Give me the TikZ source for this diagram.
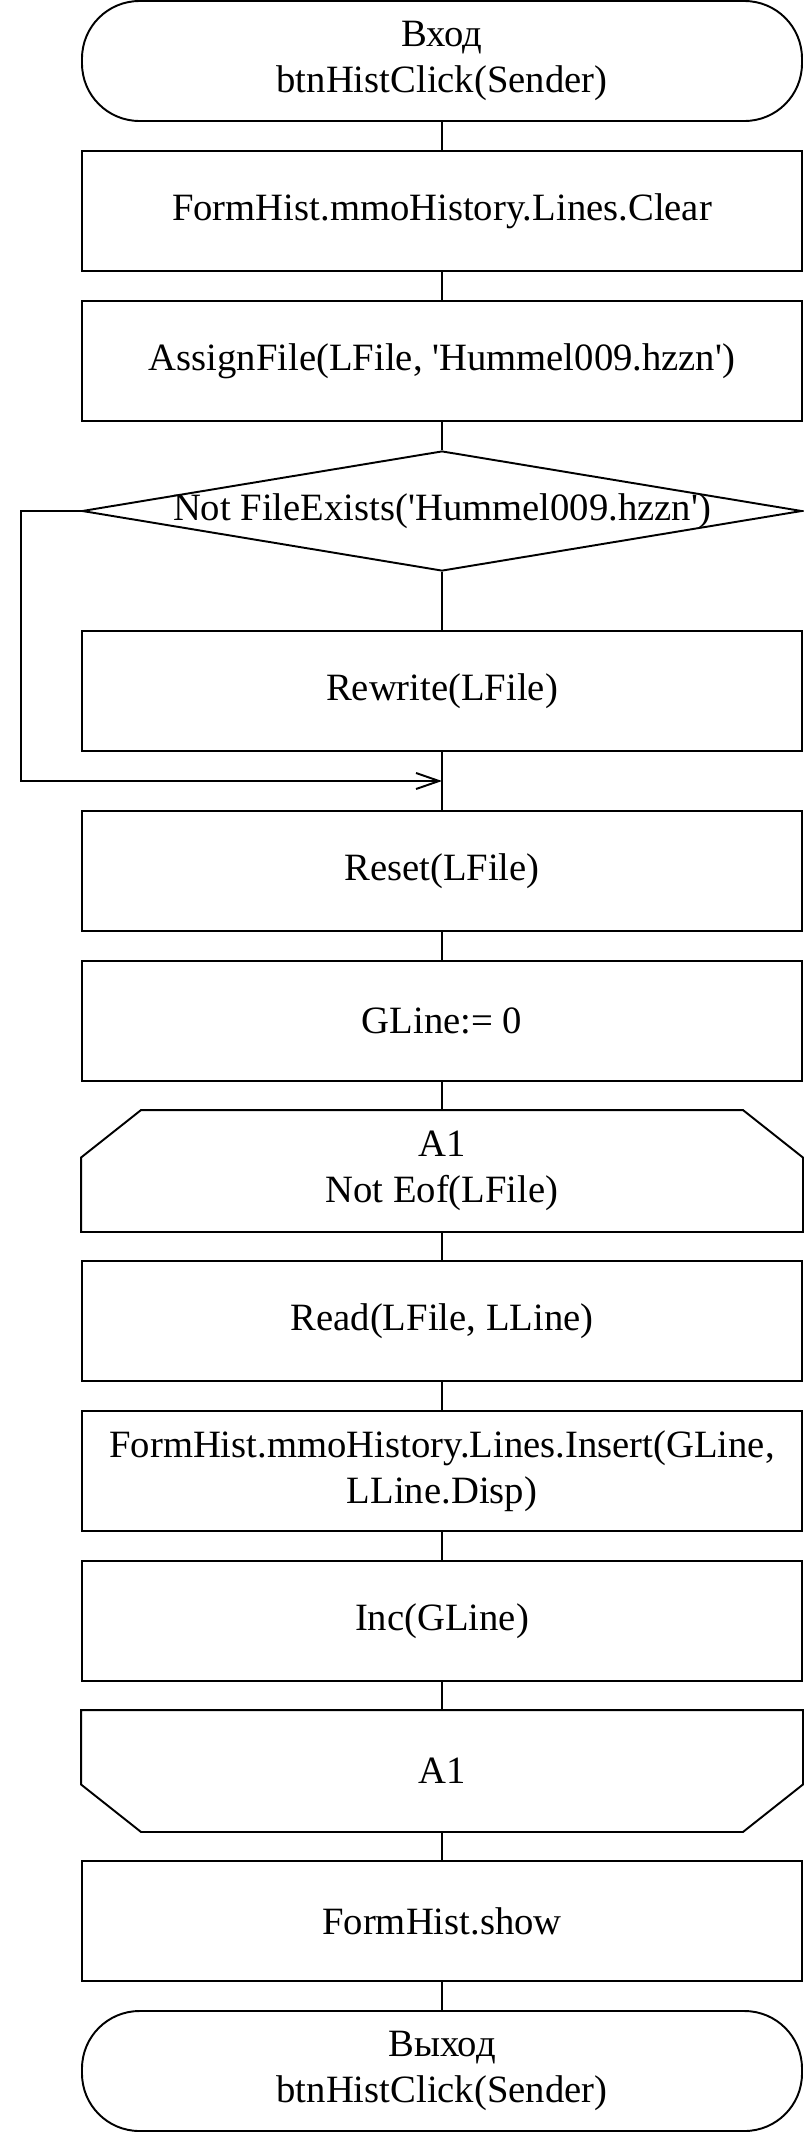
\documentclass[tikz,border=0pt]{standalone}
\usepackage{fontspec}
\setmainfont{Liberation Serif}
\usepackage{tikz}
\usetikzlibrary{shapes.geometric, arrows.meta, calc, positioning}

\begin{document}
\begin{tikzpicture}[arrow/.style = {line width=1.1pt,-{Straight Barb[length=0.46cm,width=0.32cm]}}, node distance=3cm]
		\tikzset{block/.style={draw,rectangle,line width=1.1pt,minimum width=14.4cm,minimum height=2.4cm,inner sep=0pt,align=center,font=\fontsize{22}{26.5}\selectfont}}
		\tikzset{term/.style={block,rounded corners=1.15cm}}
		\tikzset{loopbox/.style={block,draw=none}}

		\useasboundingbox (0,0) rectangle (16.08,-42.66);

		% Start
		\node[term] (start) at (8.84,-1.22) {Вход\\btnHistClick(Sender)};

		% File
		\node[block, below of=start] (clear) {FormHist.mmoHistory.Lines.Clear};

		\node[block, below of=clear] (assign) {AssignFile(LFile, \textquotesingle Hummel009.hzzn\textquotesingle)};

		\node[diamond, below of=assign, draw, line width=1.1pt, inner sep=0pt, minimum width=14.4cm, minimum height=2.4cm, label={[name=condtext,font=\fontsize{22}{26.5}\selectfont]center:Not FileExists(\textquotesingle Hummel009.hzzn\textquotesingle)}] (cond) {};

		\node[block, below of=cond, node distance=3.6cm] (rewrite) {Rewrite(LFile)};

		\node[block, below of=rewrite, node distance=3.6cm] (reset) {Reset(LFile)};

		\node[block, below of=reset] (gline) {GLine:= 0};

		% Loop
		\node[loopbox, below of=gline] (loopA) {A1\\Not Eof(LFile)};

		\node[block, below of=loopA] (read) {Read(LFile, LLine)};

		\node[block, below of=read] (insert) {FormHist.mmoHistory.Lines.Insert(GLine,\\LLine.Disp)};

		\node[block, below of=insert] (inc) {Inc(GLine)};

		\node[loopbox, below of=inc] (loopB) {A1};

		% End
		\node[block, below of=loopB] (show) {FormHist.show};

		\node[term, below of=show] (finish) {Выход\\btnHistClick(Sender)};

		% Loop borders
		\draw [line width=1.1pt] (loopA.south west) -- ([yshift=-0.95cm]loopA.north west) -- ([xshift=1.2cm]loopA.north west) -- ([xshift=-1.2cm]loopA.north east) -- ([yshift=-0.95cm]loopA.north east) -- (loopA.south east) -- cycle;

		\draw [line width=1.1pt] (loopB.north west) -- ([yshift=0.95cm]loopB.south west) -- ([xshift=1.2cm]loopB.south west) -- ([xshift=-1.2cm]loopB.south east) -- ([yshift=0.95cm]loopB.south east) -- (loopB.north east) -- cycle;

		\coordinate (merge) at ($(rewrite.south)!0.5!(reset.north)$);

		% Lines
		\draw [line width=1.1pt] (start) -- (clear);
		\draw [line width=1.1pt] (clear) -- (assign);
		\draw [line width=1.1pt] (assign) -- (cond);
		\draw [line width=1.1pt] (cond) -- (rewrite);
		\draw [line width=1.1pt] (rewrite) -- (reset);
		\draw [line width=1.1pt] (reset) -- (gline);
		\draw [line width=1.1pt] (gline) -- (loopA);
		\draw [line width=1.1pt] (loopA) -- (read);
		\draw [line width=1.1pt] (read) -- (insert);
		\draw [line width=1.1pt] (insert) -- (inc);
		\draw [line width=1.1pt] (inc) -- (loopB);
		\draw [line width=1.1pt] (loopB) -- (show);
		\draw [line width=1.1pt] (show) -- (finish);
		\draw [arrow] (cond.west) -- ++(-1.2,0) |- (merge);

	\end{tikzpicture}
\end{document}
